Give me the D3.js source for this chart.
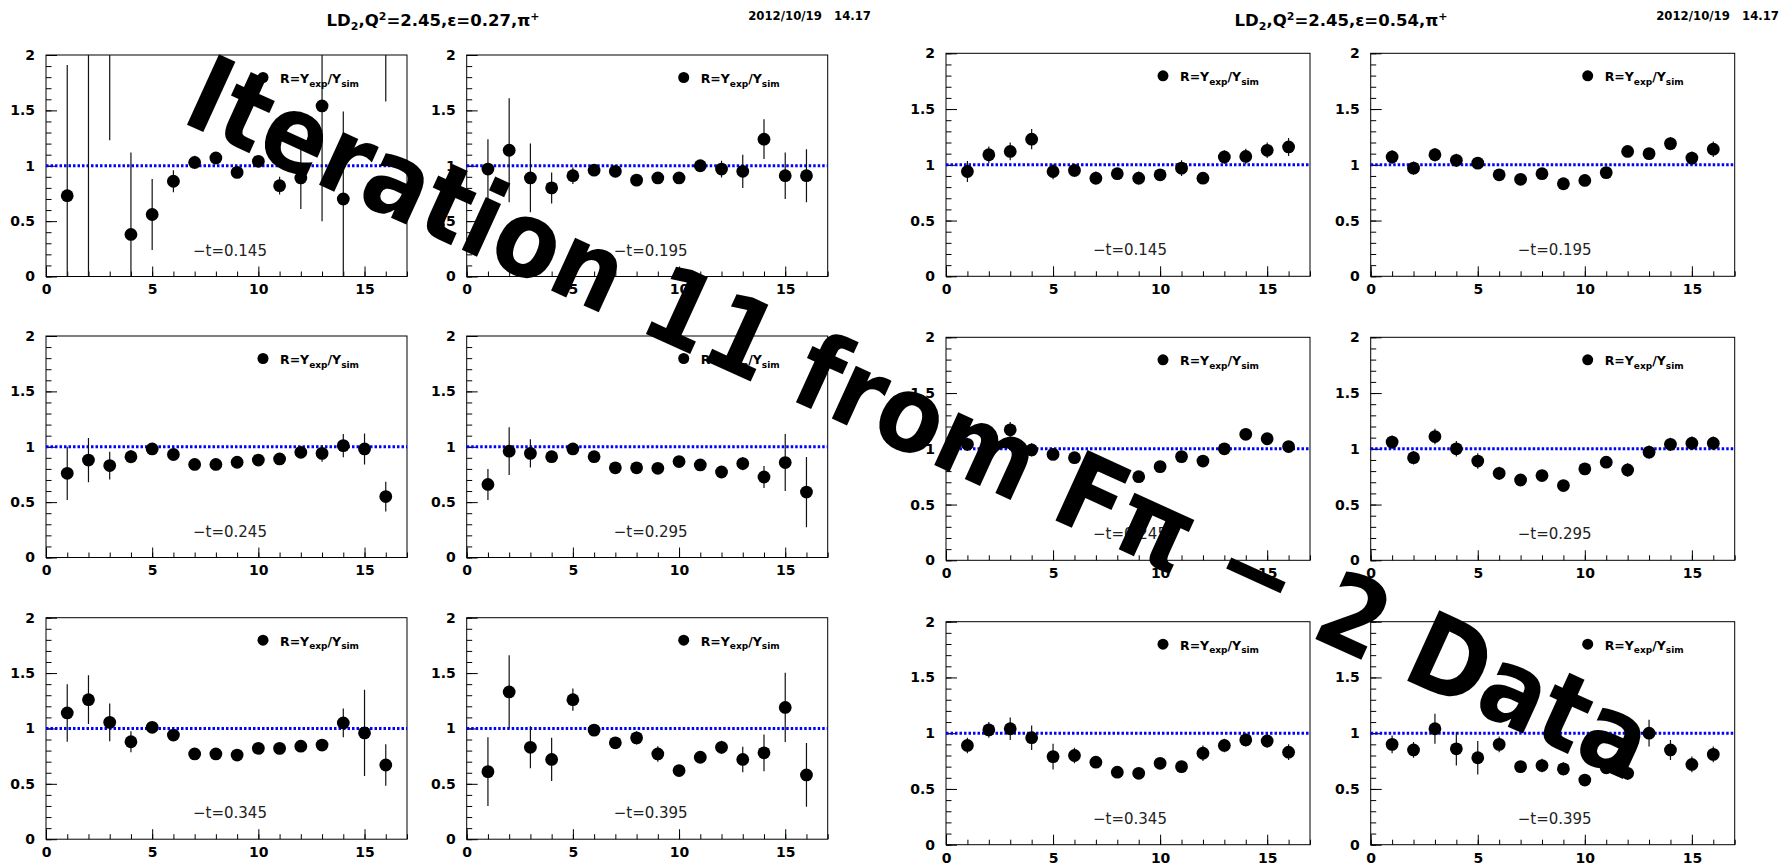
<!DOCTYPE html>
<html>
<head>
<meta charset="utf-8">
<script src="https://cdn.jsdelivr.net/npm/d3@7/dist/d3.min.js"></script>
<style>
  html, body { margin: 0; padding: 0; background: #fff; }
  svg { display: block; }
</style>
</head>
<body>
<svg id="chart" width="1785" height="866"></svg>
<script>
// ---- data -------------------------------------------------------------
const bins = d3.range(1, 17);
const tLabels = ["0.145", "0.195", "0.245", "0.295", "0.345", "0.395"];
const epsilons = ["0.27", "0.54"];
const q2Value = "2.45";
const stamp = "2012/10/19   14.17";
const yTickValues = [0, 0.5, 1, 1.5, 2];
const xTickValues = [0, 5, 10, 15];
const watermark = "Iteration 11 from Fπ − 2 Data";

// R = Yexp/Ysim per bin, eps = 0.27 (values above 2 are off-scale points)
const ratio_e27_t145 = [0.73, 2.6, 2.6, 0.38, 0.56, 0.86, 1.03, 1.07, 0.94, 1.04, 0.82, 0.89, 1.54, 0.70, null, 2.6];
const error_e27_t145 = [1.18, 2.8, 1.37, 0.74, 0.32, 0.10, 0.06, 0.05, 0.05, 0.05, 0.08, 0.28, 1.04, 0.79, null, 1.02];
const ratio_e27_t195 = [0.97, 1.14, 0.89, 0.80, 0.91, 0.96, 0.95, 0.87, 0.89, 0.89, 1.00, 0.97, 0.95, 1.24, 0.91, 0.91];
const error_e27_t195 = [0.27, 0.47, 0.31, 0.14, 0.075, 0.04, 0.04, 0.03, 0.03, 0.03, 0.04, 0.075, 0.15, 0.18, 0.21, 0.24];
const ratio_e27_t245 = [0.76, 0.88, 0.83, 0.91, 0.98, 0.93, 0.84, 0.84, 0.86, 0.88, 0.89, 0.95, 0.94, 1.01, 0.98, 0.55];
const error_e27_t245 = [0.24, 0.20, 0.125, 0.06, 0.03, 0.03, 0.03, 0.03, 0.03, 0.03, 0.03, 0.04, 0.075, 0.105, 0.14, 0.135];
const ratio_e27_t295 = [0.66, 0.96, 0.94, 0.91, 0.98, 0.91, 0.81, 0.81, 0.805, 0.866, 0.836, 0.772, 0.848, 0.727, 0.857, 0.591];
const error_e27_t295 = [0.14, 0.215, 0.127, 0.05, 0.04, 0.03, 0.03, 0.03, 0.03, 0.03, 0.03, 0.03, 0.06, 0.10, 0.257, 0.317];
const ratio_e27_t345 = [1.14, 1.26, 1.055, 0.88, 1.01, 0.94, 0.77, 0.77, 0.76, 0.82, 0.82, 0.84, 0.85, 1.05, 0.96, 0.67];
const error_e27_t345 = [0.26, 0.22, 0.17, 0.095, 0.05, 0.04, 0.03, 0.03, 0.03, 0.03, 0.03, 0.03, 0.05, 0.13, 0.39, 0.187];
const ratio_e27_t395 = [0.61, 1.33, 0.83, 0.72, 1.26, 0.985, 0.87, 0.915, 0.77, 0.62, 0.74, 0.83, 0.72, 0.78, 1.19, 0.58];
const error_e27_t395 = [0.31, 0.33, 0.19, 0.195, 0.10, 0.05, 0.05, 0.06, 0.07, 0.04, 0.04, 0.06, 0.115, 0.166, 0.313, 0.288];

// R = Yexp/Ysim per bin, eps = 0.54
const ratio_e54_t145 = [0.94, 1.09, 1.12, 1.23, 0.94, 0.95, 0.88, 0.92, 0.88, 0.91, 0.97, 0.88, 1.07, 1.075, 1.13, 1.16];
const error_e54_t145 = [0.094, 0.075, 0.08, 0.09, 0.07, 0.06, 0.06, 0.05, 0.06, 0.05, 0.07, 0.05, 0.06, 0.07, 0.07, 0.08];
const ratio_e54_t195 = [1.07, 0.97, 1.09, 1.04, 1.015, 0.91, 0.87, 0.92, 0.83, 0.86, 0.93, 1.12, 1.10, 1.19, 1.06, 1.14];
const error_e54_t195 = [0.06, 0.06, 0.06, 0.06, 0.05, 0.05, 0.04, 0.05, 0.04, 0.05, 0.05, 0.05, 0.05, 0.06, 0.06, 0.07];
const ratio_e54_t245 = [1.04, 1.08, 1.17, 0.99, 0.95, 0.92, 0.85, 0.79, 0.75, 0.84, 0.93, 0.89, 1.00, 1.13, 1.09, 1.02];
const error_e54_t245 = [0.06, 0.06, 0.07, 0.06, 0.05, 0.05, 0.05, 0.04, 0.04, 0.04, 0.05, 0.05, 0.05, 0.05, 0.05, 0.05];
const ratio_e54_t295 = [1.06, 0.92, 1.11, 1.00, 0.89, 0.78, 0.72, 0.76, 0.67, 0.82, 0.88, 0.81, 0.97, 1.04, 1.05, 1.05];
const error_e54_t295 = [0.06, 0.06, 0.07, 0.07, 0.07, 0.06, 0.05, 0.05, 0.05, 0.05, 0.05, 0.06, 0.06, 0.06, 0.06, 0.06];
const ratio_e54_t345 = [0.89, 1.03, 1.04, 0.96, 0.79, 0.80, 0.74, 0.65, 0.64, 0.73, 0.70, 0.82, 0.89, 0.94, 0.93, 0.83];
const error_e54_t345 = [0.07, 0.07, 0.10, 0.11, 0.115, 0.07, 0.04, 0.04, 0.04, 0.04, 0.04, 0.07, 0.06, 0.06, 0.06, 0.07];
const ratio_e54_t395 = [0.90, 0.85, 1.04, 0.86, 0.78, 0.90, 0.70, 0.71, 0.68, 0.58, 0.69, 0.64, 1.00, 0.85, 0.72, 0.81];
const error_e54_t395 = [0.08, 0.07, 0.135, 0.15, 0.15, 0.07, 0.05, 0.06, 0.06, 0.05, 0.05, 0.06, 0.12, 0.09, 0.07, 0.07];

// ---- layout -----------------------------------------------------------
const FONT = "'DejaVu Sans', Verdana, sans-serif";
const svg = d3.select("#chart");

// two canvases, each a 2 x 3 grid of pads
const canvases = [
  {
    eps: epsilons[0], titleX: 433, titleY: 26, stampX: 871, stampY: 20,
    cols: [46, 466.7], frameW: 361,
    rows: [55, 336, 617.7], frameH: 221.5,
    series: [
      [ratio_e27_t145, error_e27_t145], [ratio_e27_t195, error_e27_t195],
      [ratio_e27_t245, error_e27_t245], [ratio_e27_t295, error_e27_t295],
      [ratio_e27_t345, error_e27_t345], [ratio_e27_t395, error_e27_t395]
    ]
  },
  {
    eps: epsilons[1], titleX: 1341, titleY: 26, stampX: 1779, stampY: 20,
    cols: [946, 1370.7], frameW: 364,
    rows: [53.3, 337.3, 621.7], frameH: 223,
    series: [
      [ratio_e54_t145, error_e54_t145], [ratio_e54_t195, error_e54_t195],
      [ratio_e54_t245, error_e54_t245], [ratio_e54_t295, error_e54_t295],
      [ratio_e54_t345, error_e54_t345], [ratio_e54_t395, error_e54_t395]
    ]
  }
];

let clipId = 0;

function drawTitle(c) {
  const t = svg.append("text")
    .attr("x", c.titleX).attr("y", c.titleY)
    .attr("text-anchor", "middle")
    .style("font-family", FONT).style("font-weight", "bold").style("font-size", "16.5px");
  t.append("tspan").text("LD");
  t.append("tspan").attr("dy", 4).style("font-size", "11px").text("2");
  t.append("tspan").attr("dy", -4).text(",Q");
  t.append("tspan").attr("dy", -6).style("font-size", "11px").text("2");
  t.append("tspan").attr("dy", 6).text(`=${q2Value},ε=${c.eps},π`);
  t.append("tspan").attr("dy", -6).style("font-size", "11px").text("+");

  svg.append("text")
    .attr("x", c.stampX).attr("y", c.stampY)
    .attr("text-anchor", "end")
    .style("font-family", FONT).style("font-weight", "bold").style("font-size", "11.7px")
    .style("white-space", "pre")
    .text(stamp);
}

function drawPanel(fx, fy, fw, fh, ratios, errors, tLabel) {
  const x = d3.scaleLinear().domain([0, 17]).range([fx, fx + fw]);
  const y = d3.scaleLinear().domain([0, 2]).range([fy + fh, fy]);
  const g = svg.append("g");

  const id = "clip" + (clipId++);
  svg.append("clipPath").attr("id", id)
    .append("rect").attr("x", fx).attr("y", fy).attr("width", fw).attr("height", fh);

  // frame
  g.append("rect")
    .attr("x", fx).attr("y", fy).attr("width", fw).attr("height", fh)
    .attr("fill", "none").attr("stroke", "#000").attr("stroke-width", 1);

  // y axis: major ticks + labels, minor ticks every 0.1
  const yMajor = g.append("g").attr("transform", `translate(${fx},0)`)
    .call(d3.axisLeft(y).tickValues(yTickValues).tickSizeInner(-11).tickSizeOuter(0)
      .tickPadding(11).tickFormat(d3.format("")));
  const yMinor = g.append("g").attr("transform", `translate(${fx},0)`)
    .call(d3.axisLeft(y).tickValues(d3.range(0, 2.0001, 0.1)).tickSizeInner(-5.5).tickSizeOuter(0)
      .tickFormat(""));

  // x axis: major ticks at 0,5,10,15, minor ticks at every bin
  const xMajor = g.append("g").attr("transform", `translate(0,${fy + fh})`)
    .call(d3.axisBottom(x).tickValues(xTickValues).tickSizeInner(-10).tickSizeOuter(0)
      .tickPadding(8).tickFormat(d3.format("")));
  const xMinor = g.append("g").attr("transform", `translate(0,${fy + fh})`)
    .call(d3.axisBottom(x).tickValues(d3.range(0, 18)).tickSizeInner(-5).tickSizeOuter(0)
      .tickFormat(""));

  [yMajor, yMinor, xMajor, xMinor].forEach(a => {
    a.select(".domain").remove();
    a.selectAll("line").attr("stroke", "#000").attr("stroke-width", 1);
    a.selectAll("text")
      .attr("fill", "#000")
      .style("font-family", FONT).style("font-weight", "bold").style("font-size", "14px");
  });
  xMajor.selectAll("text").attr("dy", "0.71em");

  // reference line at R = 1
  g.append("line")
    .attr("x1", x(0)).attr("x2", x(17)).attr("y1", y(1)).attr("y2", y(1))
    .attr("stroke", "#0000ff").attr("stroke-width", 3).attr("stroke-dasharray", "2.5 2");

  const pts = bins.map((b, i) => ({ b, r: ratios[i], e: errors[i] })).filter(d => d.r !== null);
  const data = g.append("g").attr("clip-path", `url(#${id})`);

  data.selectAll("line.err").data(pts).join("line")
    .attr("class", "err")
    .attr("x1", d => x(d.b)).attr("x2", d => x(d.b))
    .attr("y1", d => y(d.r - d.e)).attr("y2", d => y(d.r + d.e))
    .attr("stroke", "#111").attr("stroke-width", 1.2);

  data.selectAll("circle.pt").data(pts).join("circle")
    .attr("class", "pt")
    .attr("cx", d => x(d.b)).attr("cy", d => y(d.r)).attr("r", 6.4)
    .attr("fill", "#000");

  // legend
  g.append("circle").attr("cx", fx + 217).attr("cy", fy + 22.5).attr("r", 5.5).attr("fill", "#000");
  const lt = g.append("text").attr("x", fx + 234).attr("y", fy + 28)
    .style("font-family", FONT).style("font-weight", "bold").style("font-size", "12.5px");
  lt.append("tspan").text("R=Y");
  lt.append("tspan").attr("dy", 3.5).style("font-size", "9px").text("exp");
  lt.append("tspan").attr("dy", -3.5).text("/Y");
  lt.append("tspan").attr("dy", 3.5).style("font-size", "9px").text("sim");

  // -t label
  g.append("text").attr("x", fx + 147).attr("y", fy + fh - 21)
    .style("font-family", FONT).style("font-size", "15px")
    .attr("fill", "#222")
    .text("\u2212t=" + tLabel);
}

canvases.forEach(c => {
  drawTitle(c);
  c.series.forEach(([r, e], i) => {
    const col = i % 2, row = Math.floor(i / 2);
    drawPanel(c.cols[col], c.rows[row], c.frameW, c.frameH, r, e, tLabels[i]);
  });
});

// diagonal overlay text
svg.append("text")
  .attr("transform", "translate(179,121) rotate(24.5)")
  .style("font-family", "'DejaVu Sans Condensed', 'DejaVu Sans', sans-serif")
  .style("font-stretch", "condensed")
  .style("font-weight", "bold")
  .style("font-size", "106px")
  .attr("fill", "#000")
  .text(watermark);
</script>
</body>
</html>
